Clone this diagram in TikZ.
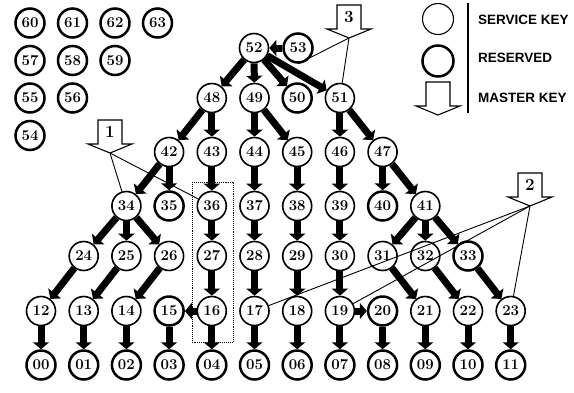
\documentclass[tikz,border=0pt]{standalone}
\usepackage{fontspec}
\usepackage{tikz}
\usetikzlibrary{positioning, arrows.meta, calc}
\newfontfamily\legendfont{Liberation Sans}
% master key symbol: name, x, top y, label
\newcommand{\masterkey}[4]{%
  \draw[line width=1.1pt, fill=white] ({#2-12},#3) -- ({#2+12},#3) -- ({#2+12},{#3+24}) -- ({#2+22},{#3+24})
    -- (#2,{#3+33}) -- ({#2-22},{#3+24}) -- ({#2-12},{#3+24}) -- cycle;
  \node[keylabel] (#1l) at (#2,{#3+12}) {#4};
  \coordinate (#1) at (#2,{#3+33});
}

\begin{document}
\begin{tikzpicture}[x=1pt, y=-1pt,
  servicekey/.style={circle, draw, line width=1.6pt, fill=white, minimum size=29pt, inner sep=0pt,
    font=\fontsize{15}{15}\selectfont\bfseries},
  reserved/.style={servicekey, line width=2.5pt},
  keyarrow/.style={line width=7pt, -{Triangle[length=7pt, width=16pt]}},
  keyline/.style={line width=0.9pt},
  keylabel/.style={font=\fontsize{17}{17}\selectfont\bfseries, inner sep=0pt},
  legendtext/.style={anchor=west, inner sep=0pt, font=\legendfont\bfseries\fontsize{13.5}{13.5}\selectfont}]
\useasboundingbox (0,0) rectangle (574,392);
% Reserved block, top left
\foreach \lab/\i/\j in {60/0/0, 61/1/0, 62/2/0, 63/3/0, 57/0/1, 58/1/1, 59/2/1, 55/0/2, 56/1/2, 54/0/3} {
  \node[reserved] (n\lab) at ({30+42.5*\i}, {23+37.5*\j}) {\lab};
}
% Top of the tree
\node[servicekey] (n52) at (254,48) {52};
\node[reserved] (n53) at (298,48) {53};
\foreach \lab/\c in {48/4, 49/5, 51/7} {
  \node[servicekey] (n\lab) at ({41+42.7*\c}, 98) {\lab};
}
\node[reserved] (n50) at ({41+42.7*6}, 98) {50};
% Row 42..47
\foreach \lab/\c in {42/3, 43/4, 44/5, 45/6, 46/7, 47/8} {
  \node[servicekey] (n\lab) at ({41+42.7*\c}, 152) {\lab};
}
% Row 34..41
\foreach \lab/\c in {34/2, 36/4, 37/5, 38/6, 39/7, 41/9} {
  \node[servicekey] (n\lab) at ({41+42.7*\c}, 206) {\lab};
}
\foreach \lab/\c in {35/3, 40/8} {
  \node[reserved] (n\lab) at ({41+42.7*\c}, 206) {\lab};
}
% Row 24..33
\foreach \lab/\c in {24/1, 25/2, 26/3, 27/4, 28/5, 29/6, 30/7, 31/8, 32/9} {
  \node[servicekey] (n\lab) at ({41+42.7*\c}, 256) {\lab};
}
\node[reserved] (n33) at ({41+42.7*10}, 256) {33};
% Row 12..23
\foreach \lab/\c in {12/0, 13/1, 14/2, 16/4, 17/5, 18/6, 19/7, 21/9, 22/10, 23/11} {
  \node[servicekey] (n\lab) at ({41+42.7*\c}, 311) {\lab};
}
\foreach \lab/\c in {15/3, 20/8} {
  \node[reserved] (n\lab) at ({41+42.7*\c}, 311) {\lab};
}
% Bottom row 00..11
\foreach \lab/\c in {00/0, 01/1, 02/2, 03/3, 04/4, 05/5, 06/6, 07/7, 08/8, 09/9, 10/10, 11/11} {
  \node[reserved] (n\lab) at ({41+42.7*\c}, 365) {\lab};
}
% Derivation arrows
\foreach \a/\b in {52/48, 52/49, 52/50, 52/51, 53/52, 48/42, 48/43, 49/44, 49/45, 51/46, 51/47,
    42/34, 42/35, 43/36, 44/37, 45/38, 46/39, 47/40, 47/41,
    34/24, 34/25, 34/26, 36/27, 37/28, 38/29, 39/30, 41/31, 41/32, 41/33,
    24/12, 25/13, 26/14, 27/16, 28/17, 29/18, 30/19, 31/21, 32/22, 33/23, 16/15, 19/20,
    12/00, 13/01, 14/02, 15/03, 16/04, 17/05, 18/06, 19/07, 20/08, 21/09, 22/10, 23/11} {
  \draw[keyarrow] (n\a) -- (n\b);
}
% Dotted group 36-27-16
\draw[densely dotted, line width=0.9pt] (192,182) rectangle (233,342);
% Master keys
\masterkey{mk3}{349}{5}{3}
\masterkey{mk1}{110}{120}{1}
\masterkey{mk2}{530}{173}{2}
\draw[keyline] (mk3) -- (n51);
\draw[keyline] (mk3) -- (n53.south);
\draw[keyline] (mk1) -- (n34);
\draw[keyline] (mk1) -- (n36);
\draw[keyline] (mk2) -- (n23);
\draw[keyline] (mk2) -- (n19);
\draw[keyline] (mk2) -- (n17);
% Legend
\node[servicekey, minimum size=31pt, line width=1.1pt] (legservice) at (438,19) {};
\node[reserved, minimum size=31pt] (legreserved) at (438,61) {};
\masterkey{mkleg}{438}{82}{}
\draw[line width=1.4pt] (468,3) -- (468,113);
\node[legendtext] (txservice) at (478,20) {SERVICE KEY};
\node[legendtext] (txreserved) at (478,58) {RESERVED};
\node[legendtext] (txmaster) at (478,98) {MASTER KEY};
\end{tikzpicture}
\end{document}
